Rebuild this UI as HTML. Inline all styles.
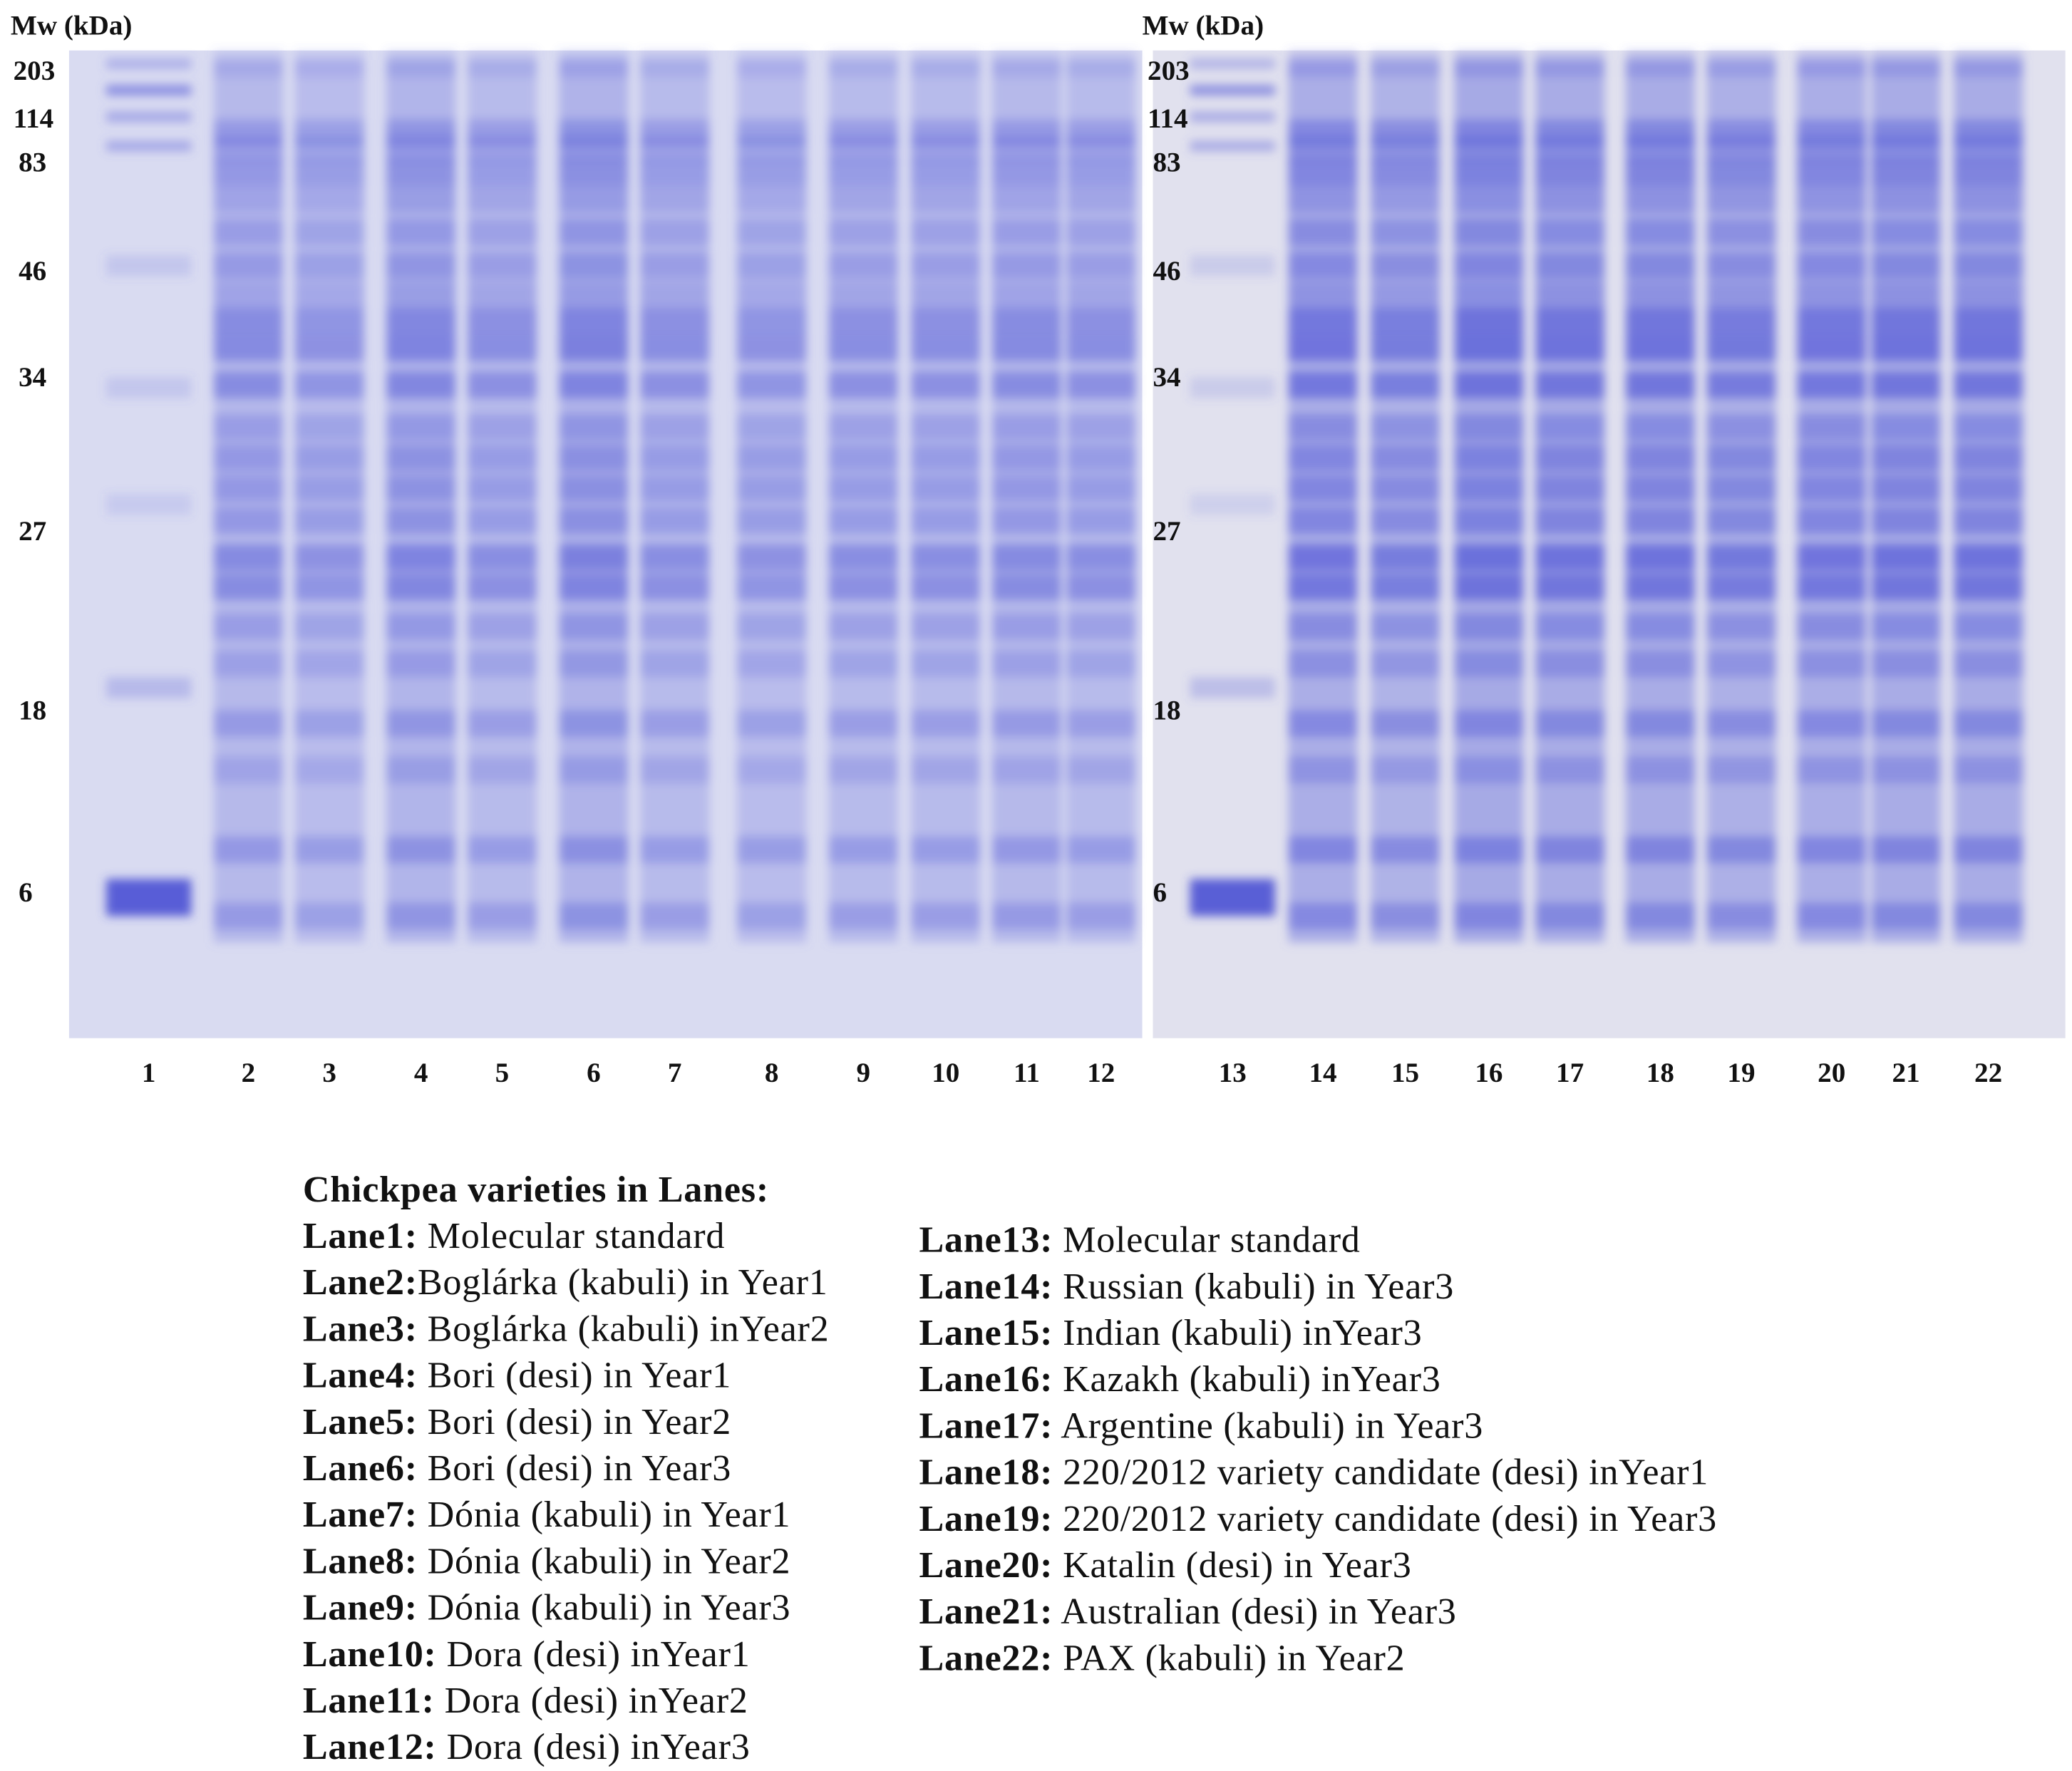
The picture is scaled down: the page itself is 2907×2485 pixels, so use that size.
<!DOCTYPE html>
<html><head><meta charset="utf-8">
<style>
html,body{margin:0;padding:0;background:#fff;}
svg{display:block;}
.lbl{font-family:"Liberation Serif",serif;font-weight:bold;font-size:21px;fill:#111;}
.leg{font-family:"Liberation Serif",serif;font-size:28px;letter-spacing:0.4px;fill:#111;}
.legb{font-weight:bold;}
</style></head>
<body>
<svg id="fig" width="2907" height="2485" viewBox="0 0 1560 1334" preserveAspectRatio="none" xmlns="http://www.w3.org/2000/svg">
<defs>
<filter id="blur" x="-20%" y="-20%" width="140%" height="140%"><feGaussianBlur stdDeviation="3.5"/></filter>
</defs>
<rect x="52" y="38" width="808" height="744" fill="#d9dbf1"/>
<rect x="868" y="38" width="687" height="744" fill="#e1e1ee"/>
<g id="lanesG" filter="url(#blur)"></g>
<g id="labelsG"></g>
<g>
<text class="leg legb" x="228" y="905">Chickpea varieties in Lanes:</text>
<text class="leg" x="228" y="940"><tspan class="legb">Lane1:</tspan> Molecular standard</text>
<text class="leg" x="228" y="975"><tspan class="legb">Lane2:</tspan>Boglárka (kabuli) in Year1</text>
<text class="leg" x="228" y="1010"><tspan class="legb">Lane3:</tspan> Boglárka (kabuli) inYear2</text>
<text class="leg" x="228" y="1045"><tspan class="legb">Lane4:</tspan> Bori (desi) in Year1</text>
<text class="leg" x="228" y="1080"><tspan class="legb">Lane5:</tspan> Bori (desi) in Year2</text>
<text class="leg" x="228" y="1115"><tspan class="legb">Lane6:</tspan> Bori (desi) in Year3</text>
<text class="leg" x="228" y="1150"><tspan class="legb">Lane7:</tspan> Dónia (kabuli) in Year1</text>
<text class="leg" x="228" y="1185"><tspan class="legb">Lane8:</tspan> Dónia (kabuli) in Year2</text>
<text class="leg" x="228" y="1220"><tspan class="legb">Lane9:</tspan> Dónia (kabuli) in Year3</text>
<text class="leg" x="228" y="1255"><tspan class="legb">Lane10:</tspan> Dora (desi) inYear1</text>
<text class="leg" x="228" y="1290"><tspan class="legb">Lane11:</tspan> Dora (desi) inYear2</text>
<text class="leg" x="228" y="1325"><tspan class="legb">Lane12:</tspan> Dora (desi) inYear3</text>
<text class="leg" x="692" y="943"><tspan class="legb">Lane13:</tspan> Molecular standard</text>
<text class="leg" x="692" y="978"><tspan class="legb">Lane14:</tspan> Russian (kabuli) in Year3</text>
<text class="leg" x="692" y="1013"><tspan class="legb">Lane15:</tspan> Indian (kabuli) inYear3</text>
<text class="leg" x="692" y="1048"><tspan class="legb">Lane16:</tspan> Kazakh (kabuli) inYear3</text>
<text class="leg" x="692" y="1083"><tspan class="legb">Lane17:</tspan> Argentine (kabuli) in Year3</text>
<text class="leg" x="692" y="1118"><tspan class="legb">Lane18:</tspan> 220/2012 variety candidate (desi) inYear1</text>
<text class="leg" x="692" y="1153"><tspan class="legb">Lane19:</tspan> 220/2012 variety candidate (desi) in Year3</text>
<text class="leg" x="692" y="1188"><tspan class="legb">Lane20:</tspan> Katalin (desi) in Year3</text>
<text class="leg" x="692" y="1223"><tspan class="legb">Lane21:</tspan> Australian (desi) in Year3</text>
<text class="leg" x="692" y="1258"><tspan class="legb">Lane22:</tspan> PAX (kabuli) in Year2</text>
</g>
</svg>
<script>
const laneNumbers = [1,2,3,4,5,6,7,8,9,10,11,12,13,14,15,16,17,18,19,20,21,22];
const laneCenters = [112,187,248,317,378,447,508,581,650,712,773,829,928,996,1058,1121,1182,1250,1311,1379,1435,1497];
const laneIntensity = [1,0.9,0.8,1,0.85,1.05,0.85,0.8,0.85,0.85,0.9,0.85,1,1.25,1.15,1.35,1.3,1.3,1.2,1.25,1.3,1.3];
const markerLanes = [1,13];
const mwLabels = ["203","114","83","46","34","27","18","6"];
const mwY = [53,89,122,204,284,400,535,672];
const sampleBandY = [48,100,112,130,150,175,200,222,242,262,290,322,345,368,392,420,442,472,500,545,580,640,690];
const sampleBandI = [0.3,0.55,0.5,0.6,0.4,0.5,0.55,0.4,0.8,0.85,0.8,0.5,0.6,0.6,0.6,0.85,0.8,0.5,0.45,0.55,0.4,0.6,0.55];
const markerBandY = [48,68,88,110,200,292,380,518,676];
const markerBandI = [0.5,0.9,0.6,0.6,0.25,0.25,0.2,0.4,1.2];
const NS="http://www.w3.org/2000/svg";
const lanesG=document.getElementById('lanesG');
const labelsG=document.getElementById('labelsG');
function mk(tag,attrs,parent){const e=document.createElementNS(NS,tag);for(const k in attrs)e.setAttribute(k,attrs[k]);parent.appendChild(e);return e;}
laneNumbers.forEach((n,i)=>{
  const cx=laneCenters[i], isM=markerLanes.includes(n), k=laneIntensity[i];
  const w=isM?64:52;
  const g=mk('g',{},lanesG);
  
  
  if(!isM){
    const base=mk('rect',{x:cx-w/2,y:45,width:w,height:665,fill:'#7a80e0','fill-opacity':Math.min(0.9,0.42*k)},g);
    
    
  }
  const ys=isM?markerBandY:sampleBandY, is=isM?markerBandI:sampleBandI;
  ys.forEach((y,j)=>{
    const op=Math.min(1,is[j]*k*0.68);
    const h=isM?(j===8?28:(j<4?8:16)):20;
    const r=mk('rect',{x:cx-w/2,y:y-h/2,width:w,height:h,fill:isM&&j===8?'#3a40d0':'#5a60d8','fill-opacity':op},g);
    
    
  });
  const t=mk('text',{x:cx,y:815,'text-anchor':'middle',class:'lbl'},labelsG);
  t.textContent=n;
  
  
});
[[8,26],[860,26]].forEach(([x,ty],gi)=>{
  const t=mk('text',{x:x,y:ty,class:'lbl'},labelsG);
  t.textContent='Mw (kDa)';
  
  
  mwLabels.forEach((m,j)=>{
    const tx=(m.length===3?x+2:x+6)+(gi?2:0);
    const tt=mk('text',{x:tx,y:mwY[j]+7,class:'lbl'},labelsG);
    tt.textContent=m;
    
    
  });
});
</script>
</body></html>
